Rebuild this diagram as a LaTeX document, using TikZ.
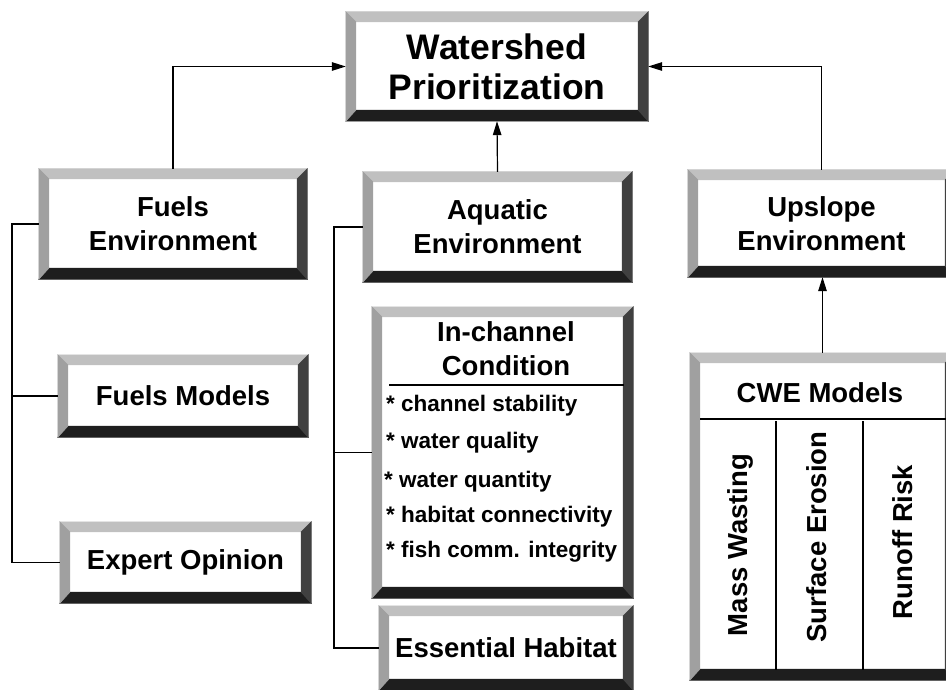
\documentclass[tikz,border=0pt]{standalone}
\usepackage{fontspec}
\setmainfont{Liberation Sans}
\usepackage{tikz}
\usetikzlibrary{arrows.meta}

\definecolor{bevtop}{HTML}{C0C0C0}
\definecolor{bevleft}{HTML}{A0A0A0}
\definecolor{bevright}{HTML}{404040}
\definecolor{bevbottom}{HTML}{1E1E1E}

\tikzstyle{bevbox} = [rectangle, inner sep=0pt, fill=white, align=center, font=\bfseries\fontsize{27.5}{34}\selectfont]
\tikzstyle{bigbox} = [bevbox, font=\bfseries\fontsize{35.5}{40}\selectfont]
\tikzstyle{bullet} = [anchor=west, inner sep=0pt, font=\bfseries\fontsize{22.5}{26}\selectfont]
\tikzstyle{face} = [draw=black, line width=0.6pt]
\tikzstyle{arrow} = [line width=1.2pt,->,>={Triangle[length=14pt,width=8.5pt]}]
\tikzstyle{link} = [line width=1.2pt]

% bevelled frame round a named node
\newcommand{\bevelframe}[1]{%
  \fill[face, bevtop] (#1.north west) -- (#1.north east) -- ([shift={(-10pt,-10pt)}]#1.north east) -- ([shift={(10pt,-10pt)}]#1.north west) -- cycle;
  \fill[face, bevbottom] (#1.south west) -- (#1.south east) -- ([shift={(-10pt,11pt)}]#1.south east) -- ([shift={(10pt,11pt)}]#1.south west) -- cycle;
  \fill[face, bevleft] (#1.north west) -- ([shift={(10pt,-10pt)}]#1.north west) -- ([shift={(10pt,11pt)}]#1.south west) -- (#1.south west) -- cycle;
  \fill[face, bevright] (#1.north east) -- ([shift={(-10pt,-10pt)}]#1.north east) -- ([shift={(-10pt,11pt)}]#1.south east) -- (#1.south east) -- cycle;
}

\begin{document}
\begin{tikzpicture}[x=1pt, y=-1pt]
                \path[use as bounding box, clip] (0,0) rectangle (946,690);

% ---------------------------------------------
% Top and middle row
% ---------------------------------------------
                \node (ws) [bigbox, minimum width=302pt, minimum height=109pt] at (497,66.5) {Watershed\\Prioritization};

                \node (fuel_env) [bevbox, minimum width=268pt, minimum height=110pt] at (173,224) {Fuels\\Environment};
                \node (aqua_env) [bevbox, minimum width=269pt, minimum height=110pt] at (497.5,227) {Aquatic\\Environment};
                \node (up_env) [bevbox, minimum width=267pt, minimum height=107pt] at (821.5,223.5) {Upslope\\Environment};

% ---------------------------------------------
% Left column
% ---------------------------------------------
                \node (fuel_mod) [bevbox, minimum width=250pt, minimum height=82pt] at (183,396) {Fuels Models};
                \node (expert) [bevbox, minimum width=251pt, minimum height=81pt] at (185.5,562.5) {Expert Opinion};

% ---------------------------------------------
% Middle column
% ---------------------------------------------
                \node (inchan) [bevbox, minimum width=261pt, minimum height=291pt] at (502.5,452.5) {};
                \node (ess_hab) [bevbox, minimum width=254pt, minimum height=84pt] at (506,648) {Essential Habitat};

% ---------------------------------------------
% Right column
% ---------------------------------------------
                \node (cwe) [bevbox, minimum width=265pt, minimum height=327pt] at (822.5,516.5) {};

                \foreach \n in {ws,fuel_env,aqua_env,up_env,fuel_mod,expert,inchan,ess_hab,cwe}
                    {\bevelframe{\n}}

                % In-channel contents
                \node (inchan_title) [bevbox, fill=none] at (506,349) {\fontsize{27.5}{33}\selectfont In-channel\\Condition};
                \draw [link] (389,385) -- (624,385);
                \node (item1) [bullet] at (386,406) {* channel stability};
                \node (item2) [bullet] at (386,443) {* water quality};
                \node (item3) [bullet] at (384,482) {* water quantity};
                \node (item4) [bullet] at (386,517) {* habitat connectivity};
                \node (item5) [bullet] at (386,552) {* fish comm. integrity};

                % CWE contents
                \node (cwe_title) [bevbox, fill=none] at (820,393) {CWE Models};
                \draw [link] (700,419) -- (946,419);
                \draw [link] (776,421) -- (776,670);
                \draw [link] (863,421) -- (863,670);
                \node (mw) [bevbox, fill=none, rotate=90] at (740,545) {Mass Wasting};
                \node (se) [bevbox, fill=none, rotate=90] at (817,537) {Surface Erosion};
                \node (rr) [bevbox, fill=none, rotate=90] at (903,542) {Runoff Risk};

% ---------------------------------------------
% All arrows
% ---------------------------------------------
                \draw [arrow] (fuel_env.north) |- (ws.west);
                \draw [arrow] (aqua_env.north) -- (ws.south);
                \draw [arrow] (up_env.north) |- (ws.east);
                \draw [arrow] (cwe.north) -- (cwe.north |- up_env.south);

                % brackets
                \coordinate (fuel_bus) at (12,224);
                \draw [link] (fuel_env.west) -- (fuel_bus) |- (expert.west);
                \draw [link] (fuel_mod.west) -- (fuel_mod.west -| fuel_bus);

                \coordinate (aqua_bus) at (334,227);
                \draw [link] (aqua_env.west) -- (aqua_bus) |- (ess_hab.west);
                \draw [link] (inchan.west) -- (inchan.west -| aqua_bus);

\end{tikzpicture}
\end{document}
